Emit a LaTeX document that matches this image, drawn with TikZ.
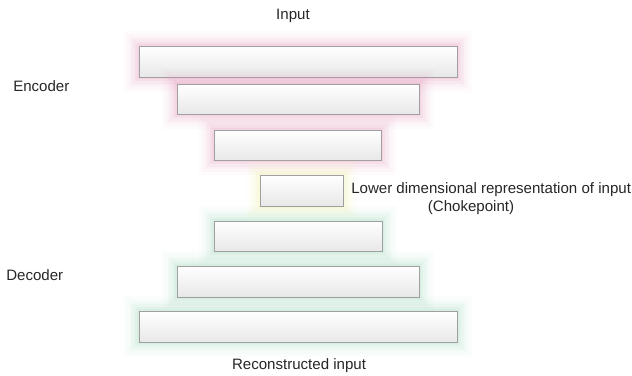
\documentclass[tikz,border=0pt]{standalone}
\usepackage{fontspec}
\setmainfont{Liberation Sans}
\definecolor{encglow}{RGB}{222,140,178}
\definecolor{decglow}{RGB}{150,210,178}
\definecolor{midglow}{RGB}{238,238,160}
\definecolor{layerline}{RGB}{160,160,160}
\tikzset{
  layer/.style={draw=layerline, top color=white, bottom color=black!9,
    inner sep=0pt, line width=0.6pt},
  glow/.style={
    preaction={draw=#1, line width=22pt, opacity=.035, rounded corners=10pt},
    preaction={draw=#1, line width=18pt, opacity=.045, rounded corners=8pt},
    preaction={draw=#1, line width=14pt, opacity=.06, rounded corners=6pt},
    preaction={draw=#1, line width=10pt, opacity=.08, rounded corners=4pt},
    preaction={draw=#1, line width=6pt, opacity=.1, rounded corners=2pt},
    preaction={draw=#1, line width=3pt, opacity=.12}},
  label/.style={font=\fontsize{11.3}{13}\selectfont, text=black!85, inner sep=0pt}
}
\begin{document}
\begin{tikzpicture}[x=0.75pt, y=-0.75pt]
  \useasboundingbox (0,0) rectangle (632,375);
  % encoder, chokepoint and decoder layers
  \foreach \cx/\cy/\w/\h/\nm/\gc in {298/61.5/318/31/enca/encglow,
      298/99/242/30/encb/encglow, 297.5/145/167/30/encc/encglow,
      301.5/190.5/83/31/code/midglow,
      298/236/168/30/decc/decglow, 298/281.5/242/31/decb/decglow,
      298/326.5/318/31/deca/decglow}{
    \node[layer, glow=\gc, minimum width=\w*0.75pt, minimum height=\h*0.75pt]
      (\nm) at (\cx,\cy) {};
  }
  % labels
  \node[label] (input) at (293,16) {Input};
  \node[label, anchor=west] (encoder) at (13,86) {Encoder};
  \node[label, anchor=west] (decoder) at (6,275) {Decoder};
  \node[label, anchor=west] (lowdim) at (351,190)
    {Lower dimensional representation of input};
  \node[label] (choke) at (471,208) {(Chokepoint)};
  \node[label] (output) at (299,366) {Reconstructed input};
\end{tikzpicture}
\end{document}
